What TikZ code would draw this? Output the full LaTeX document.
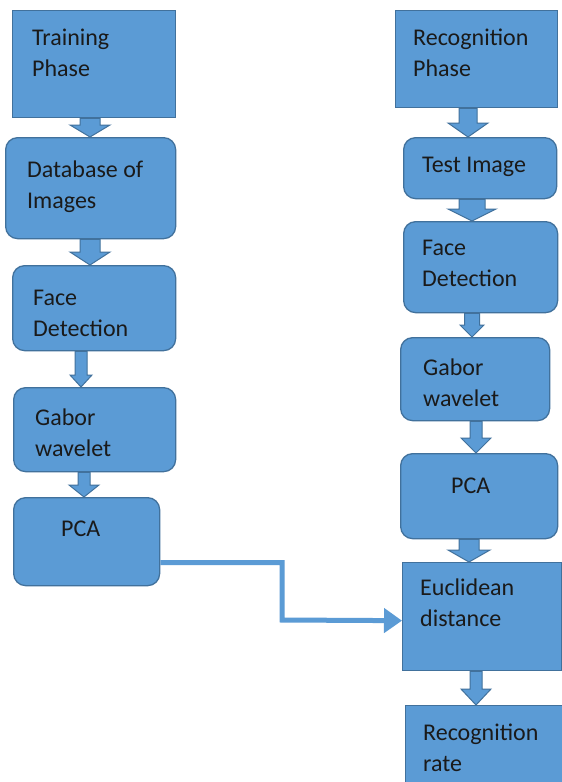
\documentclass[tikz,border=0pt]{standalone}
\usepackage{fontspec}
\setmainfont{Carlito}
\usetikzlibrary{arrows.meta,calc}
\definecolor{boxfill}{HTML}{5B9BD5}
\definecolor{boxline}{HTML}{41719C}
\definecolor{txtcol}{HTML}{1A1A1A}
\tikzset{
  sqbox/.style={draw=boxline, fill=boxfill, line width=1.3pt, inner sep=0pt, anchor=north west},
  rbox/.style={sqbox, rounded corners=12pt},
  lbl/.style={anchor=base west, inner sep=0pt, text=txtcol, font=\fontsize{24}{31.5}\selectfont},
  barrow/.style={draw=boxline, fill=boxfill, line width=1pt, line join=miter},
  conn/.style={draw=boxfill, line width=5pt, -{Triangle[length=18pt,width=24pt]}}
}
\newcommand\twol[2]{\begin{tabular}[t]{@{}l@{}}#1\\#2\end{tabular}}
% from, to, x-centre, shaft half width, head half width, head length
\newcommand\blockarr[6]{%
  \path[barrow] let \p1=(#1.south), \p2=(#2.north) in
   (#3pt-#4pt,\y1) -- (#3pt+#4pt,\y1) -- (#3pt+#4pt,\y2+#6pt) -- (#3pt+#5pt,\y2+#6pt)
   -- (#3pt,\y2) -- (#3pt-#5pt,\y2+#6pt) -- (#3pt-#4pt,\y2+#6pt) -- cycle;}
\begin{document}
\begin{tikzpicture}[x=1pt,y=-1pt]
\useasboundingbox (0,0) rectangle (562,782);
\fill[white] (0,0) rectangle (562,782);
\clip (0,0) rectangle (562,782);
% left column
\node[sqbox, minimum width=163pt, minimum height=107pt] (tp) at (12,10) {};
\node[rbox, minimum width=170pt, minimum height=101pt] (db) at (5,137) {};
\node[rbox, minimum width=163pt, minimum height=85pt] (fdL) at (12,265) {};
\node[rbox, minimum width=162pt, minimum height=84pt] (gbL) at (13,387) {};
\node[rbox, minimum width=146pt, minimum height=88pt] (pcaL) at (13,497) {};
% right column
\node[sqbox, minimum width=162pt, minimum height=97pt] (rp) at (395,10) {};
\node[rbox, minimum width=153pt, minimum height=61pt] (ti) at (403,137) {};
\node[rbox, minimum width=154pt, minimum height=91pt] (fdR) at (403,221) {};
\node[rbox, minimum width=149pt, minimum height=83pt] (gbR) at (400,337) {};
\node[rbox, minimum width=157pt, minimum height=85pt] (pcaR) at (400,453) {};
\node[sqbox, minimum width=159pt, minimum height=108pt] (euc) at (402,562) {};
\node[sqbox, minimum width=170pt, minimum height=100pt] (rr) at (405,705) {};
% labels
\node[lbl] (tpT) at (32,45) {\twol{Training}{Phase}};
\node[lbl] (dbT) at (27,177) {\twol{Database of}{Images}};
\node[lbl] (fdLT) at (33,305) {\twol{Face}{Detection}};
\node[lbl] (gbLT) at (35,425) {\twol{Gabor}{wavelet}};
\node[lbl] (pcaLT) at (61,536) {PCA};
\node[lbl] (rpT) at (413,45) {\twol{Recognition}{Phase}};
\node[lbl] (tiT) at (422,172) {Test Image};
\node[lbl] (fdRT) at (422,255) {\twol{Face}{Detection}};
\node[lbl] (gbRT) at (423,375) {\twol{Gabor}{wavelet}};
\node[lbl] (pcaRT) at (451,493) {PCA};
\node[lbl] (eucT) at (420,595) {\twol{Euclidean}{distance}};
\node[lbl] (rrT) at (423,740) {\twol{Recognition}{rate}};
% block arrows
\blockarr{tp}{db}{90}{10}{20}{12}
\blockarr{db}{fdL}{90}{10}{20}{13}
\blockarr{fdL}{gbL}{81}{6}{11}{12}
\blockarr{gbL}{pcaL}{84}{6}{15}{12}
\blockarr{rp}{ti}{468}{9}{20}{14}
\blockarr{ti}{fdR}{472}{13}{24}{12}
\blockarr{fdR}{gbR}{472}{7.5}{12}{12}
\blockarr{gbR}{pcaR}{476}{6}{15}{15}
\blockarr{pcaR}{euc}{469}{10}{21}{12}
\blockarr{euc}{rr}{476}{6}{15}{16}
% connector from PCA (training) to Euclidean distance
\coordinate (bend) at (282,620);
\draw[conn] ([yshift=-21pt]pcaL.east) -| (bend) -- ([yshift=-4pt]euc.west);
\end{tikzpicture}
\end{document}
